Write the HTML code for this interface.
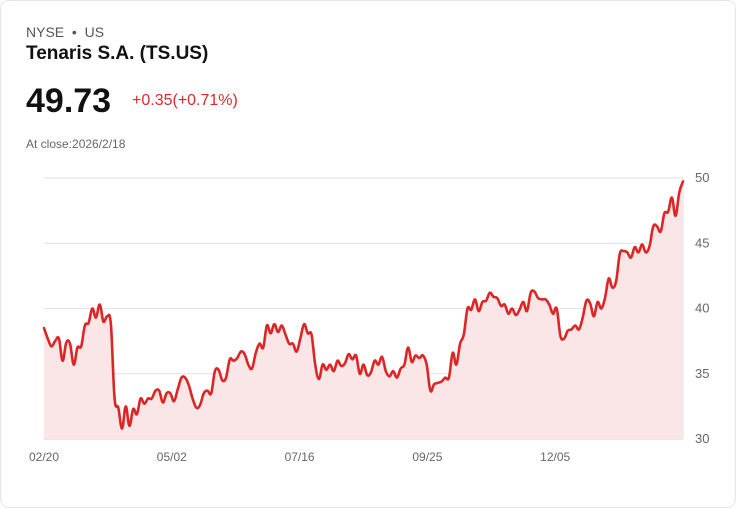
<!DOCTYPE html>
<html><head><meta charset="utf-8"><style>
body{margin:0;background:#fff;font-family:"Liberation Sans",sans-serif;}
.card{position:absolute;left:0;top:0;width:734px;height:506px;border:1px solid #e3e6ec;border-radius:9px;background:#fff;}
.t{position:absolute;white-space:nowrap;}
</style></head><body>
<div class="card">
<div class="t" style="left:25px;top:23px;font-size:14px;color:#555;">NYSE &nbsp;•&nbsp; US</div>
<div class="t" style="left:25px;top:42px;font-size:19px;font-weight:bold;color:#111;">Tenaris S.A. (TS.US)</div>
<div class="t" style="left:25px;top:81px;font-size:34px;font-weight:bold;color:#111;">49.73</div>
<div class="t" style="left:131px;top:91px;font-size:16px;color:#d92a2a;">+0.35(+0.71%)</div>
<div class="t" style="left:25px;top:136px;font-size:12px;color:#666;">At close:2026/2/18</div>
<svg id="chart" width="736" height="508" style="position:absolute;left:0;top:0"></svg>
</div>
<script>
const values=[38.5,37.7,37.1,37.5,37.7,36.0,37.4,37.3,35.7,37.0,37.1,38.7,38.9,40.0,39.3,40.3,39.0,39.4,38.8,33.1,32.4,30.8,32.5,31.0,32.3,31.9,33.1,32.7,33.1,33.1,33.7,33.7,32.8,33.5,33.5,32.9,33.8,34.7,34.7,34.1,33.1,32.4,32.6,33.5,33.7,33.5,35.2,35.3,34.5,34.7,36.1,36.0,36.2,36.7,36.5,35.7,35.4,36.6,37.3,37.0,38.7,38.1,38.8,38.2,38.7,38.0,37.3,37.3,36.7,37.7,38.8,38.1,38.0,35.7,34.6,35.7,35.3,35.7,35.2,36.0,35.6,35.8,36.5,36.1,36.4,35.0,35.7,34.9,35.1,36.0,35.7,36.3,35.2,34.8,35.2,34.7,35.4,35.7,37.0,35.9,36.4,36.2,36.4,35.7,33.7,34.2,34.3,34.4,34.7,34.7,36.6,35.7,37.3,38.0,40.0,39.9,40.7,39.8,40.5,40.6,41.2,40.9,40.8,40.2,40.3,39.6,40.0,39.5,39.9,40.5,39.8,41.2,41.3,40.8,40.7,40.7,40.3,39.6,40.0,37.9,37.7,38.3,38.4,38.7,38.4,39.3,40.6,40.4,39.4,40.5,40.0,40.8,42.3,41.6,42.1,44.2,44.4,44.3,43.9,44.7,44.3,44.9,44.3,44.8,46.3,46.3,45.9,47.3,47.4,48.5,47.1,48.9,49.73];
const yTicks=[30,35,40,45,50];
const xLabels=["02/20","05/02","07/16","09/25","12/05"];
const xLabelFrac=[0,0.2,0.4,0.6,0.8];
const NS="http://www.w3.org/2000/svg";
const svg=document.getElementById('chart');
const X0=43,X1=682,Y0=438,Y1=177,VMIN=30,VMAX=50;
const xs=i=>X0+(X1-X0)*i/(values.length-1);
const ys=v=>Y0-(v-VMIN)/(VMAX-VMIN)*(Y0-Y1);
function mk(t,a){const e=document.createElementNS(NS,t);for(const k in a)e.setAttribute(k,a[k]);svg.appendChild(e);return e;}
yTicks.forEach(v=>{
 const l=mk('line',{x1:X0,x2:X1,y1:ys(v),y2:ys(v),stroke:v===30?'#cfcfcf':'#e2e2e2','stroke-width':1});
 
 
 const t=mk('text',{x:694,y:ys(v)+4,'font-size':13,fill:'#666','font-family':'Liberation Sans,sans-serif'});
 t.textContent=v;
 
 
});
const vl=mk('line',{x1:X1,x2:X1,y1:Y1,y2:Y0,stroke:'#e2e2e2','stroke-width':1});


xLabels.forEach((s,i)=>{
 const t=mk('text',{x:X0+(X1-X0)*xLabelFrac[i],y:460,'font-size':12,fill:'#666','text-anchor':'middle','font-family':'Liberation Sans,sans-serif'});
 t.textContent=s;
 
 
});
const pts=values.map((v,i)=>[xs(i),ys(v)]);
let d='M'+pts[0][0].toFixed(1)+' '+pts[0][1].toFixed(1);
for(let i=0;i<pts.length-1;i++){
 const p0=pts[Math.max(0,i-1)],p1=pts[i],p2=pts[i+1],p3=pts[Math.min(pts.length-1,i+2)];
 const k=0.18;
 const c1=[p1[0]+(p2[0]-p0[0])*k,p1[1]+(p2[1]-p0[1])*k];
 const c2=[p2[0]-(p3[0]-p1[0])*k,p2[1]-(p3[1]-p1[1])*k];
 d+=` C${c1[0].toFixed(1)} ${c1[1].toFixed(1)} ${c2[0].toFixed(1)} ${c2[1].toFixed(1)} ${p2[0].toFixed(1)} ${p2[1].toFixed(1)}`;
}
const area=mk('path',{d:d+` L${X1} ${Y0} L${X0} ${Y0} Z`,fill:'#fae6e6'});


const line=mk('path',{d:d,fill:'none',stroke:'#dc2626','stroke-width':2.6,'stroke-linejoin':'round','stroke-linecap':'round'});


</script>
</body></html>
